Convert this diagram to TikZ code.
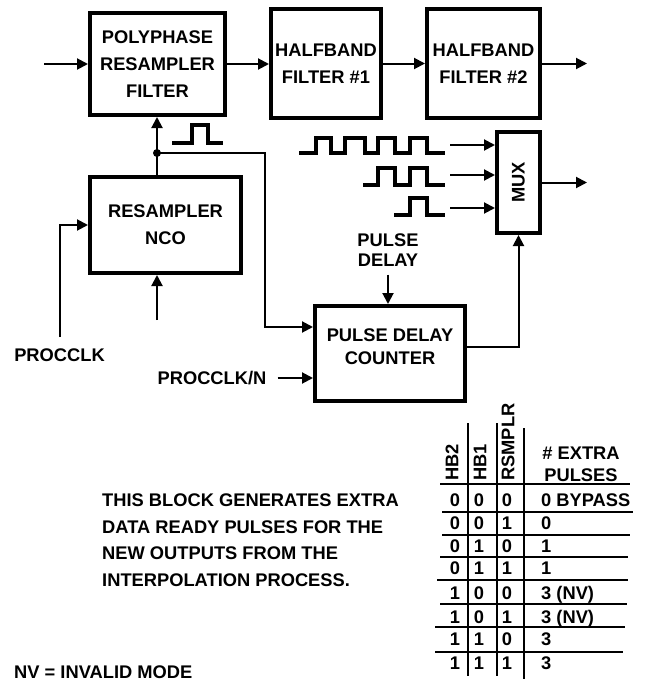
\documentclass[tikz,border=0pt]{standalone}
\usepackage{fontspec}
\setmainfont{Liberation Sans}
\usetikzlibrary{arrows.meta}

\begin{document}
\begin{tikzpicture}[x=1pt, y=-1pt]

% =======================================================
% Fonts and styles
% =======================================================
\def\lblfont{\bfseries\fontsize{18.3}{27}\selectfont}

\tikzset{
  blk/.style  = {draw, line width=4pt, align=center, inner sep=0pt, font=\lblfont},
  lbl/.style  = {inner sep=0pt, font=\lblfont},
  sig/.style  = {line width=2pt, -{Triangle[length=11pt, width=11pt]}},
  wave/.style = {line width=3.5pt, line join=miter},
  rule/.style = {line width=2pt},
}

% page size of the reference
\useasboundingbox (0,0) rectangle (645,683);

% =======================================================
% Blocks
% =======================================================
\node[blk, minimum width=135pt, minimum height=102pt] (poly) at (157.5,64)
    {POLYPHASE\\RESAMPLER\\FILTER};
\node[blk, minimum width=110pt, minimum height=109pt] (hb1) at (326,63.5)
    {HALFBAND\\FILTER \#1};
\node[blk, minimum width=113pt, minimum height=109pt] (hb2) at (483.5,63.5)
    {HALFBAND\\FILTER \#2};
\node[blk, minimum width=151pt, minimum height=96pt] (nco) at (165.5,225)
    {RESAMPLER\\NCO};
\node[blk, minimum width=43pt, minimum height=101pt] (mux) at (518.5,182.5) {};
\node[lbl, rotate=90] (muxtxt) at (mux.center) {MUX};
\node[blk, minimum width=150pt, minimum height=95pt] (pdc) at (390,353.5) {};
\node[lbl, align=center, font=\bfseries\fontsize{18.3}{23}\selectfont]
    (pdctxt) at ([yshift=7pt]pdc.center) {PULSE DELAY\\COUNTER};

% =======================================================
% Labels
% =======================================================
\node[lbl] (pclk) at (59.5,355) {PROCCLK};
\node[lbl] (pclkn) at (212,378) {PROCCLK/N};
\node[lbl, align=center, font=\bfseries\fontsize{18.3}{20}\selectfont]
    (pdly) at (388,250) {PULSE\\DELAY};

\node[lbl, align=left, anchor=north west, font=\bfseries\fontsize{18.3}{26.5}\selectfont]
    (note) at (102,494)
    {THIS BLOCK GENERATES EXTRA\\DATA READY PULSES FOR THE\\NEW OUTPUTS FROM THE\\INTERPOLATION PROCESS.};
\node[lbl, anchor=west] (nv) at (14,672) {NV = INVALID MODE};

% =======================================================
% Data path
% =======================================================
\coordinate (in)   at (44,64);
\coordinate (out1) at (587,63);
\coordinate (out2) at (587,183);

\draw[sig] (in) -- (in -| poly.west);
\draw[sig] (poly.east) -- (poly.east -| hb1.west);
\draw[sig] (hb1.east) -- (hb1.east -| hb2.west);
\draw[sig] (hb2.east) -- (hb2.east -| out1);
\draw[sig] (mux.east) -- (mux.east -| out2);

% NCO -> resampler, tap to pulse delay counter
\coordinate (jn)    at (157,153);
\coordinate (tap)   at (265,327);
\coordinate (ncoin) at (157,320);
\coordinate (pclkup) at (60,337);

\draw[sig] (jn |- nco.north) -- (jn |- poly.south);
\fill (jn) circle (4pt);
\draw[sig] (jn) -| (tap) -- (tap -| pdc.west);
\draw[sig] (ncoin) -- (ncoin |- nco.south);
\draw[sig] (pclkup) |- (nco.west);
\draw[sig] ([xshift=11pt]pclkn.east) -- (pclkn.east -| pdc.west);
\draw[sig] ([yshift=-8pt]pdly.south) -- (pdly.south |- pdc.north);
\draw[sig] ([yshift=6.5pt]pdc.east) -| (mux.south);

% MUX inputs
\foreach \y [count=\i] in {145,175,208} {
  \coordinate (muxin\i) at (450,\y);
  \draw[sig] (muxin\i) -- (muxin\i -| mux.west);
}

% =======================================================
% Pulse waveforms
% =======================================================
\draw[wave] (172,143) -| (192,125) -| (208,143) -- (223,143);

\draw[wave] (299,153) -| (316,138) -| (331,153) -| (345,138) -| (365,153)
            -| (378,138) -| (395,153) -| (410,138) -| (427,153) -- (445,153);
\draw[wave] (363,185) -| (378,168) -| (395,185) -| (410,168) -| (427,185) -- (445,185);
\draw[wave] (394,215) -| (410,198) -| (427,215) -- (445,215);

% =======================================================
% Mode table
% =======================================================
\node[lbl, rotate=90, anchor=west] (thb2) at (452,481) {HB2};
\node[lbl, rotate=90, anchor=west] (thb1) at (480,481) {HB1};
\node[lbl, rotate=90, anchor=west] (trs)  at (508,481) {RSMPLR};
\node[lbl, align=center, font=\bfseries\fontsize{18.3}{22}\selectfont]
    (tex) at (581,464) {\# EXTRA\\PULSES};

\draw[rule] (468,423) -- (468,676);
\draw[rule] (497,423) -- (497,676);
\draw[rule] (524,428) -- (524,679);

\foreach \y/\xa/\xb in {484/440/630, 512/442/633, 535/442/630, 557/440/628,
                        580/437/628, 604/440/627, 627/435/625, 652/435/623}
  \draw[rule] (\xa,\y) -- (\xb,\y);

\foreach \a/\b/\c/\n/\y [count=\i] in {0/0/0/{0 BYPASS}/500, 0/0/1/0/523,
    0/1/0/1/546, 0/1/1/1/568, 1/0/0/{3 (NV)}/593, 1/0/1/{3 (NV)}/617,
    1/1/0/3/639, 1/1/1/3/663} {
  \node[lbl, anchor=base] (ra\i) at (455,\y+6.5) {\a};
  \node[lbl, anchor=base] (rb\i) at (479,\y+6.5) {\b};
  \node[lbl, anchor=base] (rc\i) at (507,\y+6.5) {\c};
  \node[lbl, anchor=base west] (rn\i) at (541,\y+6.5) {\n};
}

\end{tikzpicture}
\end{document}
